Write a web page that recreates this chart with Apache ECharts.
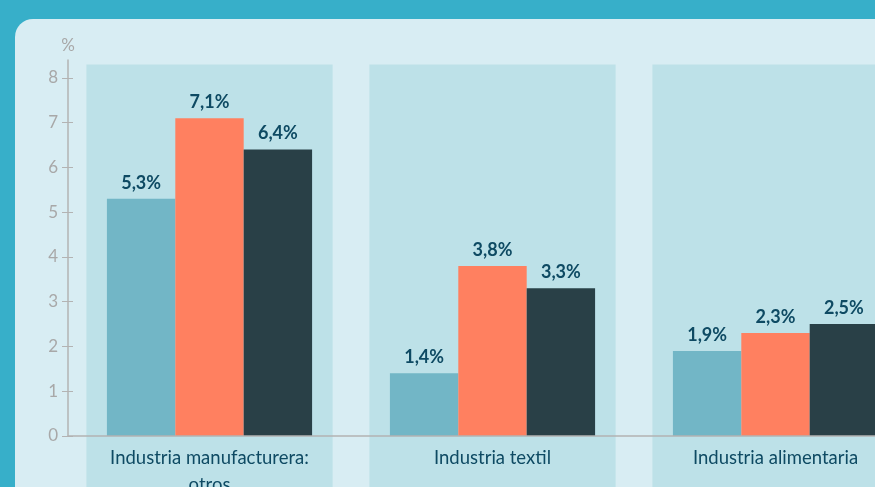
<!DOCTYPE html>
<html>
<head>
<meta charset="utf-8">
<script src="https://cdn.jsdelivr.net/npm/echarts@6/dist/echarts.min.js"></script>
<style>
  html, body { margin: 0; padding: 0; }
  .wrap { position: relative; width: 875px; height: 487px; overflow: hidden; background: #37afc9; }
  .panel { position: absolute; left: 15px; top: 19px; width: 920px; height: 520px; border-radius: 18px; background: #d8edf3; }
  .chart { position: absolute; left: 0; top: 0; width: 875px; height: 487px; }
</style>
</head>
<body>
<div class="wrap">
  <div class="panel"></div>
  <div class="chart" id="chart"></div>
</div>
<script>
// categorias y valores (%)
const categories = ['Industria manufacturera:\notros', 'Industria textil', 'Industria alimentaria']
const serie1 = [5.3, 1.4, 1.9]
const serie2 = [7.1, 3.8, 2.3]
const serie3 = [6.4, 3.3, 2.5]
const yTicks = [0, 1, 2, 3, 4, 5, 6, 7, 8]

const chart = echarts.init(document.getElementById('chart'))

const fmt = (p) => p.value.toFixed(1).replace('.', ',') + '%'

const barLabel = {
  show: true,
  position: 'top',
  distance: 7,
  formatter: fmt,
  color: '#0e4a63',
  fontFamily: 'Lato',
  fontWeight: 'bold',
  fontSize: 18
}

function makeBar(name, data, color) {
  return {
    name: name,
    type: 'bar',
    data: data,
    barGap: 0,
    barCategoryGap: '27.5%',
    z: 2,
    itemStyle: { color: color },
    label: barLabel
  }
}

const yMax = 8.4
const bandTop = 8.3

const option = {
  animation: false,
  backgroundColor: 'transparent',
  grid: { left: 68, right: -42, top: 60, bottom: 51, outerBoundsMode: 'none', containLabel: false },
  xAxis: {
    type: 'category',
    data: categories,
    z: 3,
    axisLine: { lineStyle: { color: '#b3b3b3', width: 1.5 } },
    axisTick: { show: false },
    axisLabel: {
      interval: 0,
      margin: 9,
      color: '#0e4a63',
      fontFamily: 'Lato',
      fontSize: 18.5,
      lineHeight: 27
    }
  },
  yAxis: [
    {
      type: 'value',
      min: yTicks[0],
      max: yMax,
      interval: 1,
      name: '%',
      nameLocation: 'end',
      nameGap: 6,
      nameTextStyle: { color: '#a8a8a8', fontFamily: 'Lato', fontSize: 17 },
      splitLine: { show: false },
      axisLine: { show: true, lineStyle: { color: '#b3b3b3', width: 1.5 } },
      axisTick: { show: true, inside: false, length: 6, customValues: yTicks, lineStyle: { color: '#b3b3b3' } },
      axisLabel: {
        margin: 10,
        color: '#a8a8a8',
        fontFamily: 'Lato',
        fontSize: 17,
        customValues: yTicks
      }
    },
    {
      type: 'value',
      position: 'left',
      min: yTicks[0],
      max: yMax,
      interval: 1,
      splitLine: { show: false },
      axisLine: { show: false },
      axisTick: { show: true, inside: true, length: 5, customValues: yTicks, lineStyle: { color: '#b3b3b3' } },
      axisLabel: { show: false }
    }
  ],
  series: [
    {
      type: 'custom',
      z: 1,
      clip: false,
      silent: true,
      data: categories.map((c, i) => [i, bandTop]),
      encode: { x: 0, y: 1 },
      renderItem: (params, api) => {
        const p = api.coord([api.value(0), api.value(1)])
        const w = api.size([1, 0])[0] * 0.87
        return {
          type: 'rect',
          shape: { x: p[0] - w / 2, y: p[1], width: w, height: api.getHeight() - p[1] },
          style: { fill: '#bde1e8' }
        }
      }
    },
    makeBar('Serie 1', serie1, '#72b6c6'),
    makeBar('Serie 2', serie2, '#ff8060'),
    makeBar('Serie 3', serie3, '#294047')
  ]
}

chart.setOption(option)
</script>
</body>
</html>
